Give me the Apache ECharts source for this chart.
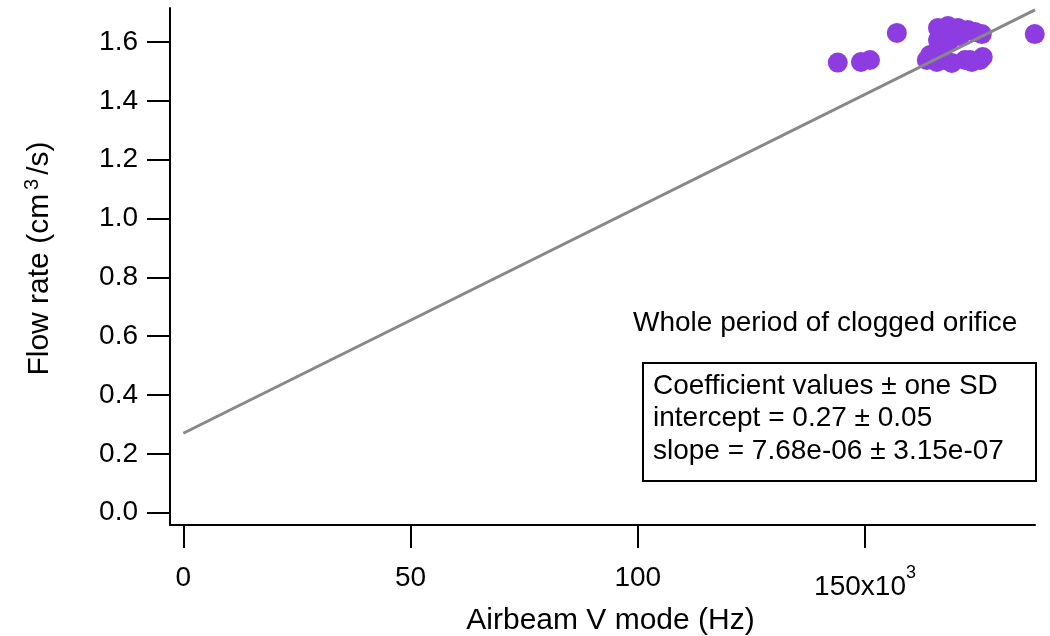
<!DOCTYPE html>
<html>
<head>
<meta charset="utf-8">
<script src="https://cdn.jsdelivr.net/npm/echarts@6/dist/echarts.min.js"></script>
<style>html,body{margin:0;padding:0;background:#fff;}#c{width:1050px;height:636px;}</style>
</head>
<body>
<div id="c"></div>
<script>
// Data (x in Hz, y in cm^3/s)
var pointX = [166050,168250,170450,172650,174200,175700,167400,170900,166050,167600,166050,168700,
              163600,164300,165800,167600,165600,172000,173500,175300,175900,173100,169100,
              144000,149100,151100,157000,187350];
var pointY = [1.648,1.654,1.648,1.641,1.634,1.627,1.627,1.620,1.607,1.590,1.573,1.607,
              1.539,1.556,1.532,1.539,1.563,1.539,1.532,1.539,1.549,1.539,1.529,
              1.530,1.532,1.539,1.631,1.627];
var fitX = [0, 187400];
var fitY = [0.27, 1.709];
var xTicks = [0, 50000, 100000, 150000];
var yTicks = [0, 0.2, 0.4, 0.6, 0.8, 1.0, 1.2, 1.4, 1.6];
var titleText = 'Whole period of clogged orifice';
var boxLines = ['Coefficient values \u00B1 one SD', 'intercept = 0.27 \u00B1 0.05', 'slope = 7.68e-06 \u00B1 3.15e-07'];

var FONT = '"Liberation Sans", Arial, sans-serif';
var scatterData = pointX.map(function (x, i) { return [x, pointY[i]]; });
var fitData = fitX.map(function (x, i) { return [x, fitY[i]]; });

var chart = echarts.init(document.getElementById('c'));
var graphics = [
  { type: 'text', left: 633, top: 309, style: { text: titleText, font: '28px ' + FONT, fill: '#000' } },
  { type: 'rect', shape: { x: 643, y: 363, width: 393, height: 118 }, style: { fill: '#fff', stroke: '#000', lineWidth: 2 } }
];
boxLines.forEach(function (t, i) {
  graphics.push({ type: 'text', left: 653, top: 372 + i * 32.5, style: { text: t, font: '28px ' + FONT, fill: '#000' } });
});

chart.setOption({
  animation: false,
  backgroundColor: '#fff',
  grid: { left: 170, right: 15, top: 8, bottom: 111, containLabel: false, outerBoundsMode: 'none' },
  xAxis: {
    type: 'value', min: -2930, max: 187400,
    splitLine: { show: false },
    axisLine: { onZero: false, lineStyle: { color: '#000', width: 2 } },
    axisTick: { show: true, inside: false, length: 23, lineStyle: { color: '#000', width: 2 }, customValues: xTicks },
    axisLabel: {
      customValues: xTicks, margin: 39, color: '#000', fontSize: 28, fontFamily: FONT,
      formatter: function (v) {
        var k = Math.round(v / 1000);
        if (k === 150) return '{a|150x10}{s|3}';
        return String(k);
      },
      rich: {
        a: { fontSize: 28, fontFamily: FONT, color: '#000', lineHeight: 46 },
        s: { fontSize: 18, fontFamily: FONT, color: '#000', lineHeight: 18, verticalAlign: 'top' }
      }
    },
    name: 'Airbeam V mode (Hz)', nameLocation: 'middle', nameGap: 80,
    nameTextStyle: { fontSize: 30, fontFamily: FONT, color: '#000', padding: [0, 0, 0, 16] }
  },
  yAxis: {
    type: 'value', min: -0.0418, max: 1.7156,
    splitLine: { show: false },
    axisLine: { onZero: false, lineStyle: { color: '#000', width: 2 } },
    axisTick: { show: true, inside: false, length: 23, lineStyle: { color: '#000', width: 2 }, customValues: yTicks },
    axisLabel: {
      customValues: yTicks, margin: 32, color: '#000', fontSize: 28, fontFamily: FONT,
      formatter: function (v) { return v.toFixed(1); }
    },
    name: '{n|Flow rate (cm}{s|3}{n|/s)}', nameLocation: 'middle', nameGap: 112,
    nameTextStyle: {
      fontSize: 30, fontFamily: FONT, color: '#000', padding: [0, 0, 0, 16],
      rich: {
        n: { fontSize: 30, fontFamily: FONT, color: '#000', lineHeight: 36 },
        s: { fontSize: 20, fontFamily: FONT, color: '#000', verticalAlign: 'top', lineHeight: 20, padding: [0, 4, 0, 4] }
      }
    }
  },
  graphic: graphics,
  series: [
    {
      type: 'scatter', data: scatterData, symbol: 'circle', symbolSize: 20, clip: false,
      itemStyle: { color: '#8c3ce0', opacity: 1 }, z: 2
    },
    {
      type: 'line', data: fitData, showSymbol: false, symbol: 'none',
      lineStyle: { color: '#888888', width: 3 }, z: 3
    }
  ]
});
</script>
</body>
</html>
